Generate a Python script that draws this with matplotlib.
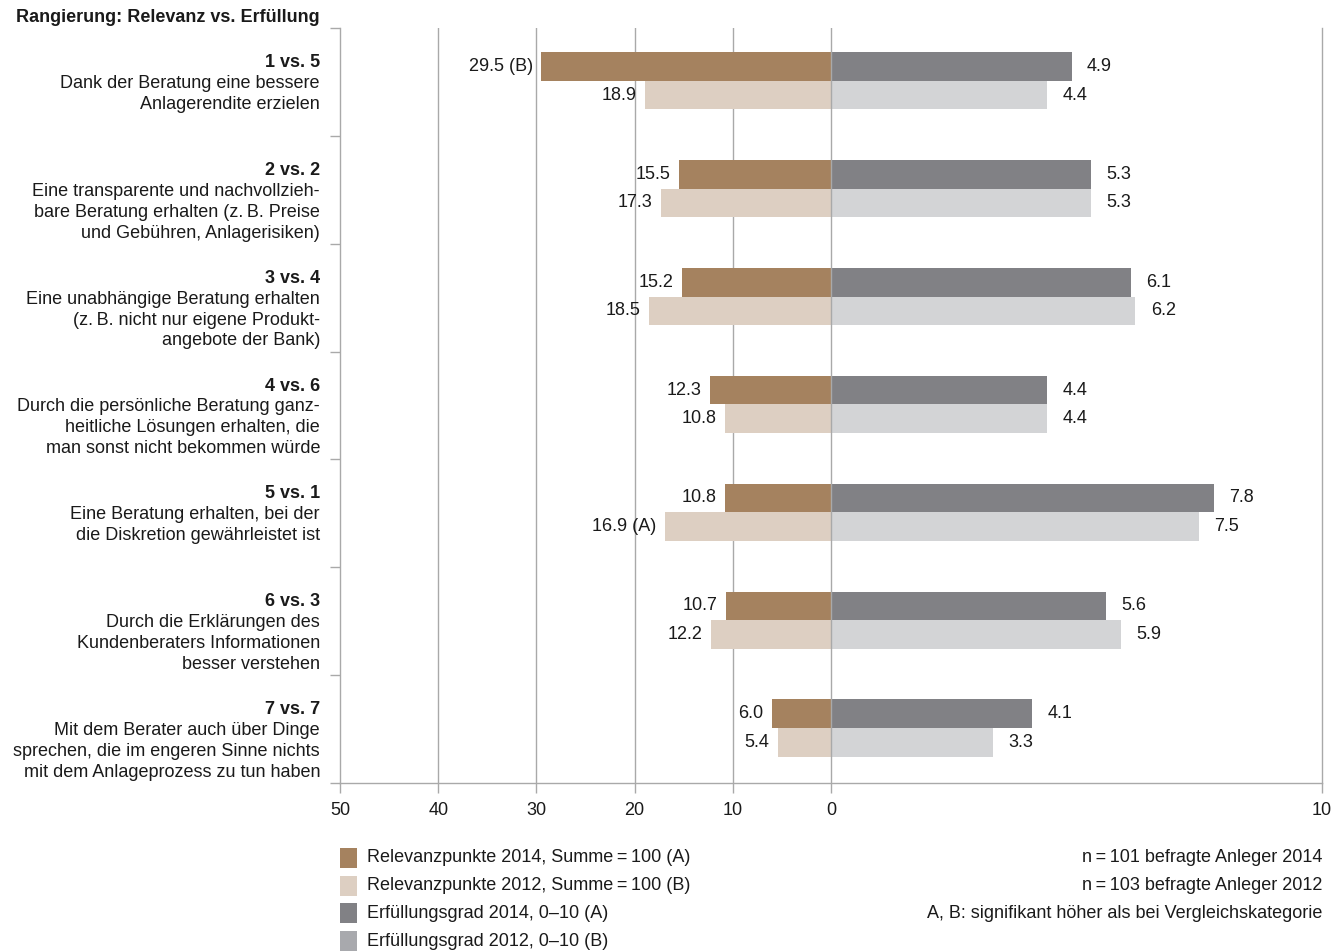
import matplotlib
matplotlib.use("Agg")
import matplotlib.pyplot as plt
from matplotlib.patches import Rectangle
from matplotlib.transforms import blended_transform_factory

plt.rcParams['font.family'] = ['Liberation Sans', 'DejaVu Sans']

# Data
ranks = ["1 vs. 5", "2 vs. 2", "3 vs. 4", "4 vs. 6", "5 vs. 1", "6 vs. 3", "7 vs. 7"]
items = [
    "Dank der Beratung eine bessere\nAnlagerendite erzielen",
    "Eine transparente und nachvollzieh-\nbare Beratung erhalten (z.\u2009B. Preise\nund Gebühren, Anlagerisiken)",
    "Eine unabhängige Beratung erhalten\n(z.\u2009B. nicht nur eigene Produkt-\nangebote der Bank)",
    "Durch die persönliche Beratung ganz-\nheitliche Lösungen erhalten, die\nman sonst nicht bekommen würde",
    "Eine Beratung erhalten, bei der\ndie Diskretion gewährleistet ist",
    "Durch die Erklärungen des\nKundenberaters Informationen\nbesser verstehen",
    "Mit dem Berater auch über Dinge\nsprechen, die im engeren Sinne nichts\nmit dem Anlageprozess zu tun haben",
]
rel_2014 = [29.5, 15.5, 15.2, 12.3, 10.8, 10.7, 6.0]
rel_2012 = [18.9, 17.3, 18.5, 10.8, 16.9, 12.2, 5.4]
ful_2014 = [4.9, 5.3, 6.1, 4.4, 7.8, 5.6, 4.1]
ful_2012 = [4.4, 5.3, 6.2, 4.4, 7.5, 5.9, 3.3]
rel_2014_sig = ["(B)", "", "", "", "", "", ""]
rel_2012_sig = ["", "", "", "", "(A)", "", ""]

legend_labels = [
    "Relevanzpunkte 2014, Summe\u2009=\u2009100 (A)",
    "Relevanzpunkte 2012, Summe\u2009=\u2009100 (B)",
    "Erfüllungsgrad 2014, 0\u201310 (A)",
    "Erfüllungsgrad 2012, 0\u201310 (B)",
]
notes = [
    "n\u2009=\u2009101 befragte Anleger 2014",
    "n\u2009=\u2009103 befragte Anleger 2012",
    "A, B: signifikant höher als bei Vergleichskategorie",
]

c_rel14 = "#a5825f"
c_rel12 = "#ddcfc2"
c_ful14 = "#818185"
c_ful12 = "#d3d4d6"
c_ful12_leg = "#a8a9ad"
c_line = "#a9a9a9"
c_text = "#1a1a1a"

W, H = 1339, 951
fig = plt.figure(figsize=(W / 100, H / 100), dpi=100)
ax = fig.add_axes([340 / W, 1 - 783 / H, (1322 - 340) / W, (783 - 28) / H])

# right side (0-10) is drawn on a 0-50 scale
scale = 5
n = len(ranks)
h = 0.265
fs = 13

for i in range(n):
    y1 = i + 0.49 - h / 2
    y2 = i + 0.49 + h / 2
    ax.barh(y1, -rel_2014[i], height=h, color=c_rel14, zorder=2)
    ax.barh(y2, -rel_2012[i], height=h, color=c_rel12, zorder=2)
    ax.barh(y1, ful_2014[i] * scale, height=h, color=c_ful14, zorder=2)
    ax.barh(y2, ful_2012[i] * scale, height=h, color=c_ful12, zorder=2)

    lab1 = f"{rel_2014[i]:.1f}" + (" " + rel_2014_sig[i] if rel_2014_sig[i] else "")
    lab2 = f"{rel_2012[i]:.1f}" + (" " + rel_2012_sig[i] if rel_2012_sig[i] else "")
    ax.annotate(lab1, (-rel_2014[i], y1), xytext=(-6, 0), textcoords="offset points",
                ha="right", va="center", fontsize=fs, color=c_text, zorder=4)
    ax.annotate(lab2, (-rel_2012[i], y2), xytext=(-6, 0), textcoords="offset points",
                ha="right", va="center", fontsize=fs, color=c_text, zorder=4)
    ax.annotate(f"{ful_2014[i]:.1f}", (ful_2014[i] * scale, y1), xytext=(11, 0),
                textcoords="offset points", ha="left", va="center", fontsize=fs,
                color=c_text, zorder=4)
    ax.annotate(f"{ful_2012[i]:.1f}", (ful_2012[i] * scale, y2), xytext=(11, 0),
                textcoords="offset points", ha="left", va="center", fontsize=fs,
                color=c_text, zorder=4)

# grid lines
for gx in [-40, -30, -20, -10]:
    ax.axvline(gx, color=c_line, lw=1, zorder=0)
ax.axvline(0, color=c_line, lw=1, zorder=3)

ax.set_xlim(-50, 50)
ax.set_ylim(n, 0)

ax.set_xticks([-50, -40, -30, -20, -10, 0, 50])
ax.set_xticklabels(["50", "40", "30", "20", "10", "0", "10"], fontsize=fs, color=c_text)
ax.set_yticks(range(n + 1))
ax.set_yticklabels([])
ax.tick_params(axis="x", direction="out", length=7, width=1, color=c_line, pad=7)
ax.tick_params(axis="y", direction="out", length=7, width=1, color=c_line)

ax.spines["top"].set_visible(False)
for s in ["left", "right", "bottom"]:
    ax.spines[s].set_color(c_line)
    ax.spines[s].set_linewidth(1)

# category labels
trans = blended_transform_factory(fig.transFigure, ax.transData)
lx = 320 / W
for i in range(n):
    ax.text(lx, i + 0.32, ranks[i], transform=trans, ha="right", va="center",
            fontsize=fs, fontweight="bold", color=c_text)
    ax.text(lx, i + 0.435, items[i], transform=trans, ha="right", va="top",
            fontsize=fs, color=c_text, linespacing=1.3)

fig.text(lx, 1 - 18 / H, "Rangierung: Relevanz vs. Erfüllung", ha="right", va="center",
         fontsize=fs, fontweight="bold", color=c_text)

# legend
leg_colors = [c_rel14, c_rel12, c_ful14, c_ful12_leg]
for k, (lab, col) in enumerate(zip(legend_labels, leg_colors)):
    yc = 858 + k * 27.7
    fig.add_artist(Rectangle((340 / W, 1 - (yc + 10) / H), 17 / W, 20 / H,
                             transform=fig.transFigure, color=col, lw=0))
    fig.text(367 / W, 1 - yc / H, lab, ha="left", va="center", fontsize=fs, color=c_text)

for k, note in enumerate(notes):
    yc = 858 + k * 27.7
    fig.text(1322 / W, 1 - yc / H, note, ha="right", va="center", fontsize=fs, color=c_text)

fig.savefig("out.png", dpi=100)
